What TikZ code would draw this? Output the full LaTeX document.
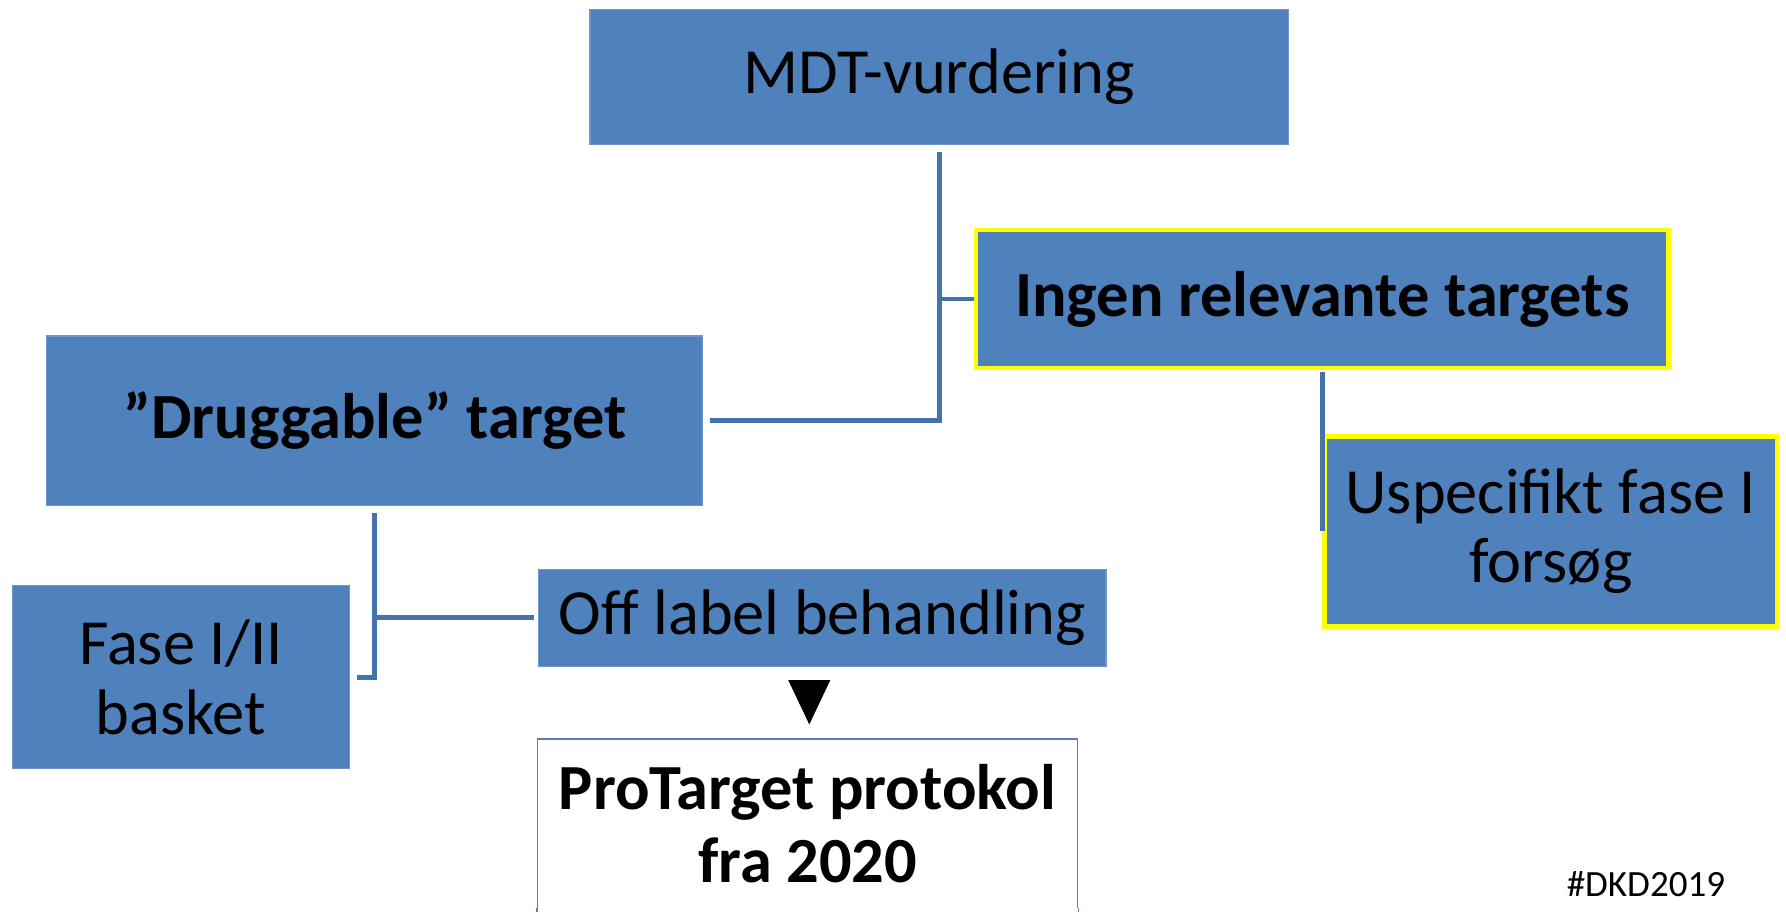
\documentclass[tikz,border=0pt]{standalone}
\usepackage{fontspec}
\setmainfont{Carlito}
\usetikzlibrary{positioning}
\definecolor{boxblue}{HTML}{4F81BD}
\definecolor{boxedge}{HTML}{6E96CA}
\definecolor{connblue}{HTML}{4672AC}
\definecolor{hiyellow}{HTML}{FFFF00}
\tikzset{
  bluebox/.style={rectangle, fill=boxblue, draw=boxedge, line width=1pt, inner sep=0pt,
    align=center, text=black, font=\fontsize{56.5}{61}\selectfont},
  boldtext/.style={font=\bfseries\fontsize{56.5}{61}\selectfont},
  yellowbox/.style={bluebox, draw=hiyellow, line width=4pt},
  whitebox/.style={rectangle, fill=white, draw=boxblue, line width=1.5pt, inner sep=0pt,
    align=center, text=black, font=\bfseries\fontsize{56.5}{64}\selectfont},
  conn/.style={draw=connblue, line width=4.3pt},
}
\begin{document}
\begin{tikzpicture}[x=1pt, y={(0pt,-1pt)}]
\useasboundingbox (0,0) rectangle (1568,800);
\clip (0,0) rectangle (1568,800);
\fill[white] (0,0) rectangle (1568,800);

\node[bluebox, minimum width=613pt, minimum height=119pt] (mdt) at (824.5,67.5) {MDT-vurdering};
\node[yellowbox, boldtext, minimum width=608pt, minimum height=121pt] (ingen) at (1161,262.5) {Ingen relevante targets};
\node[bluebox, boldtext, minimum width=576pt, minimum height=149pt] (drug) at (329,369.5) {”Druggable” target};
\node[yellowbox, minimum width=397pt, minimum height=167pt] (usp) at (1361.5,466.5) {Uspecifikt fase I\\forsøg};
\node[bluebox, minimum width=296pt, minimum height=161pt] (fase) at (159,594.5) {Fase I/II\\basket};
\node[bluebox, minimum width=498pt, minimum height=85pt] (off) at (722,542.5) {Off label behandling};
\node[whitebox, minimum width=474pt, minimum height=148pt, anchor=north] (pro) at (709,648) {ProTarget protokol\\fra 2020};
\draw[draw=boxblue, line width=1.5pt] (pro.south west) -- ++(0,20) (pro.south east) -- ++(0,20);
\fill[white] ([xshift=1pt]pro.south west) rectangle ([xshift=-1pt,yshift=20pt]pro.south east);

\node[font=\fontsize{32.5}{36}\selectfont, text=black] (tag) at (1445,776) {\#DKD2019};

% connectors
\draw[conn, shorten <=6pt, shorten >=6pt] (mdt.south) |- (drug.east);
\draw[conn] (mdt.south |- ingen.west) -- (ingen.west);
\draw[conn, shorten <=2pt] (ingen.south) -- (ingen.south |- usp.west);
\draw[conn, shorten <=6pt, shorten >=6pt] (drug.south) |- (fase.east);
\draw[conn, shorten >=4pt] (drug.south |- off.west) -- (off.west);

% arrow head between Off label and ProTarget
\fill[black] (692,597) -- (729,597) -- (710.5,636) -- cycle;
\end{tikzpicture}
\end{document}
